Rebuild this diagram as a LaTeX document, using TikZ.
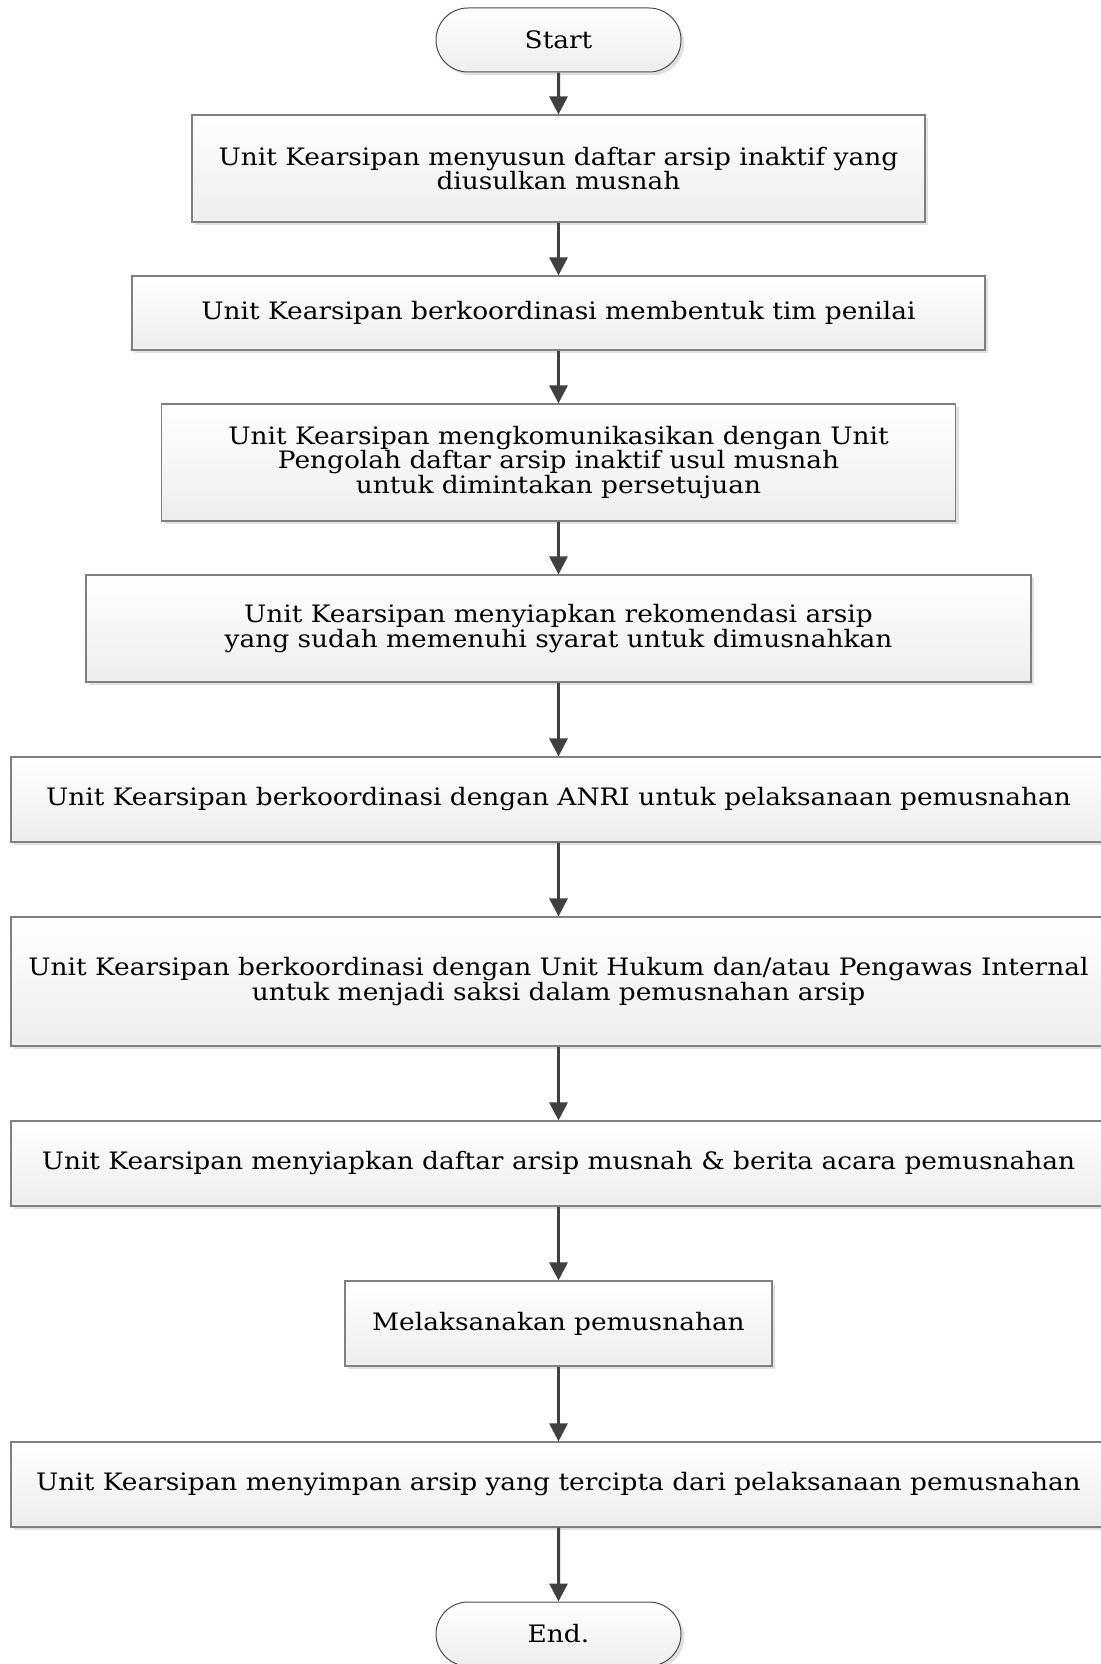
\documentclass[tikz,border=0pt]{standalone}
\usepackage{fontspec}
\setmainfont[FakeStretch=1.1]{DejaVu Serif}
\usepackage{tikz}
\usetikzlibrary{arrows.meta,shapes.misc,shadows}
\newcommand\hurufrapat{\fontsize{12}{12.3}\selectfont\lineskiplimit=-6pt\relax}
\tikzset{
    langkah/.style={rectangle,draw=black!50,line width=0.6pt,
        top color=white,bottom color=black!7,
        drop shadow={shadow xshift=1.6pt,shadow yshift=-1.6pt,fill=black!12,opacity=1},
        align=center,inner sep=0pt,font=\hurufrapat},
    terminal/.style={rounded rectangle,draw=black!70,line width=0.5pt,
        top color=white,bottom color=black!7,
        drop shadow={shadow xshift=1.6pt,shadow yshift=-1.6pt,fill=black!12,opacity=1},
        minimum width=122.5pt,minimum height=32pt,inner sep=0pt,
        font=\hurufrapat},
    alur/.style={draw=black!75,line width=1.5pt,-{Triangle[length=9pt,width=9pt]}}
}

\begin{document}
\begin{tikzpicture}[x=0.5pt,y=-0.5pt]
  \useasboundingbox (0,0) rectangle (1101,1664);

  % mulai
  \node[terminal] (mulai) at (558.5,40) {Start};

  % langkah
  \node[langkah,minimum width=366.5pt,minimum height=53.5pt] (b1) at (558.5,168.5)
    {Unit Kearsipan menyusun daftar arsip inaktif yang\\ diusulkan musnah};
  \node[langkah,minimum width=426.5pt,minimum height=37pt] (b2) at (558.5,313)
    {Unit Kearsipan berkoordinasi membentuk tim penilai};
  \node[langkah,minimum width=397pt,minimum height=58.5pt] (b3) at (558.5,462.5)
    {Unit Kearsipan mengkomunikasikan dengan Unit\\ Pengolah daftar arsip inaktif usul musnah\\ untuk dimintakan persetujuan};
  \node[langkah,minimum width=472.5pt,minimum height=53.5pt] (b4) at (558.5,628.5)
    {Unit Kearsipan menyiapkan rekomendasi arsip\\ yang sudah memenuhi syarat untuk dimusnahkan};
  \node[langkah,minimum width=547.5pt,minimum height=42.5pt] (b5) at (558.5,799.5)
    {Unit Kearsipan berkoordinasi dengan ANRI untuk pelaksanaan pemusnahan};
  \node[langkah,minimum width=547.5pt,minimum height=64.5pt] (b6) at (558.5,981.5)
    {Unit Kearsipan berkoordinasi dengan Unit Hukum dan/atau Pengawas Internal\\ untuk menjadi saksi dalam pemusnahan arsip};
  \node[langkah,minimum width=547.5pt,minimum height=42.5pt] (b7) at (558.5,1163.5)
    {Unit Kearsipan menyiapkan daftar arsip musnah \& berita acara pemusnahan};
  \node[langkah,minimum width=213.5pt,minimum height=42.5pt] (b8) at (558.5,1323.5)
    {Melaksanakan pemusnahan};
  \node[langkah,minimum width=547.5pt,minimum height=42.5pt] (b9) at (558.5,1484.5)
    {Unit Kearsipan menyimpan arsip yang tercipta dari pelaksanaan pemusnahan};

  % selesai
  \node[terminal] (selesai) at (558.5,1634) {End.};

  % panah
  \draw[alur] (mulai) -- (b1);
  \draw[alur] (b1) -- (b2);
  \draw[alur] (b2) -- (b3);
  \draw[alur] (b3) -- (b4);
  \draw[alur] (b4) -- (b5);
  \draw[alur] (b5) -- (b6);
  \draw[alur] (b6) -- (b7);
  \draw[alur] (b7) -- (b8);
  \draw[alur] (b8) -- (b9);
  \draw[alur] (b9) -- (selesai);
\end{tikzpicture}
\end{document}
